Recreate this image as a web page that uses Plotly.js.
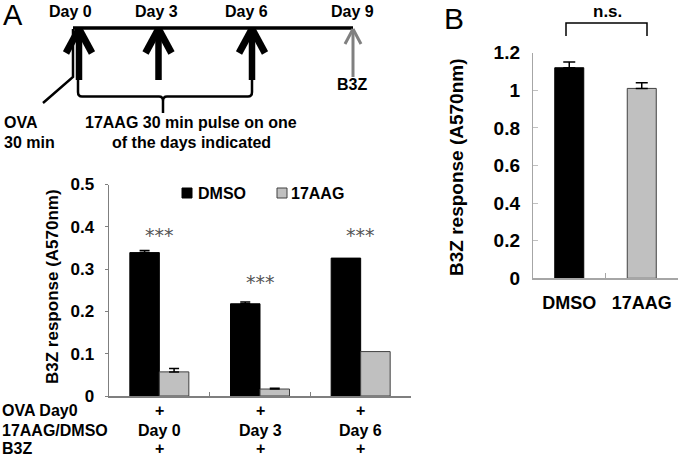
<!DOCTYPE html>
<html>
<head>
<meta charset="utf-8">
<script src="https://cdn.plot.ly/plotly-3.0.1.min.js"></script>
<style>html,body{margin:0;padding:0;background:#fff;}#chart{width:680px;height:456px;}</style>
</head>
<body>
<div id="chart"></div>
<script>
// ---------- Data (panel A) ----------
const categories = ['Day 0', 'Day 3', 'Day 6'];
const dmsoValues = [0.339, 0.218, 0.326];
const dmsoErrors = [0.005, 0.004, NaN];
const aagValues = [0.057, 0.0165, 0.105];
const aagErrors = [0.008, 0.002, NaN];
const sigLabels = ['***', '***', '***'];
const sigHeights = [0.38, 0.27, 0.38];
const rowNames = ['OVA Day0', '17AAG/DMSO', 'B3Z'];
const rowOVA = ['+', '+', '+'];
const rowTreatment = ['Day 0', 'Day 3', 'Day 6'];
const rowB3Z = ['+', '+', '+'];
const seriesNames = ['DMSO', '17AAG'];
const timelineDays = ['Day 0', 'Day 3', 'Day 6', 'Day 9'];

// ---------- Data (panel B) ----------
const bCategories = ['DMSO', '17AAG'];
const bValues = [1.12, 1.01];
const bErrors = [0.03, 0.03];
const bSig = 'n.s.';

// ---------- helpers (pixel -> paper) ----------
const W = 680, H = 456;
const px = x => x / W;
const py = y => 1 - y / H;
const FONT = 'Liberation Sans, Arial, sans-serif';
const BLACK = '#000000', GRAY = '#c0c0c0', EDGE = '#404040';

function seg(x0, y0, x1, y1, color, width) {
  return {type: 'line', xref: 'paper', yref: 'paper', x0: px(x0), y0: py(y0), x1: px(x1), y1: py(y1),
          line: {color: color, width: width}, layer: 'above'};
}
function pathShape(d, color, width) {
  return {type: 'path', xref: 'paper', yref: 'paper', path: d, line: {color: color, width: width}, layer: 'above'};
}
function P(x, y) { return px(x) + ',' + py(y); }
function txt(text, x, y, size, opts) {
  opts = opts || {};
  return Object.assign({
    text: text, xref: 'paper', yref: 'paper', x: px(x), y: py(y), showarrow: false,
    xanchor: 'center', yanchor: 'middle',
    font: {family: FONT, size: size, color: '#000', weight: opts.weight || 'bold'}
  }, opts.extra || {});
}
// minus side of the error bars is hidden (only the upper half is drawn)
const noMinus = arr => arr.map(v => (isNaN(v) ? NaN : 0));

// ---------- traces ----------
const traces = [
  {type: 'bar', name: seriesNames[0], x: categories, y: dmsoValues, xaxis: 'x', yaxis: 'y',
   marker: {color: BLACK, line: {color: BLACK, width: 1}},
   error_y: {type: 'data', symmetric: false, array: dmsoErrors, arrayminus: noMinus(dmsoErrors), color: '#000', thickness: 1.5, width: 5},
   showlegend: false, hoverinfo: 'skip'},
  {type: 'bar', name: seriesNames[1], x: categories, y: aagValues, xaxis: 'x', yaxis: 'y',
   marker: {color: GRAY, line: {color: EDGE, width: 1}},
   error_y: {type: 'data', symmetric: false, array: aagErrors, arrayminus: noMinus(aagErrors), color: '#000', thickness: 1.5, width: 5},
   showlegend: false, hoverinfo: 'skip'},
  {type: 'bar', x: bCategories, y: bValues, xaxis: 'x2', yaxis: 'y2', width: 0.4,
   marker: {color: [BLACK, GRAY], line: {color: [BLACK, EDGE], width: 1}},
   error_y: {type: 'data', symmetric: false, array: bErrors, arrayminus: noMinus(bErrors), color: '#000', thickness: 1.5, width: 6},
   showlegend: false, hoverinfo: 'skip'}
];

// ---------- shapes ----------
const shapes = [];
// timeline
shapes.push(seg(73, 28, 353, 28, BLACK, 3.5));
// OVA thin line
shapes.push(pathShape('M' + P(73, 29) + 'L' + P(73, 77) + 'L' + P(43, 103), BLACK, 2.5));
// black arrows
[79, 158.5, 252].forEach(x => {
  shapes.push(seg(x, 30, x, 80, BLACK, 6.5));
  shapes.push(seg(x, 29, x - 13, 53, BLACK, 7));
  shapes.push(seg(x, 29, x + 13, 53, BLACK, 7));
});
// gray arrow (Day 9)
shapes.push(seg(353, 30, 353, 77, '#808080', 3));
shapes.push(seg(353, 29, 345, 44, '#808080', 3));
shapes.push(seg(353, 29, 361, 44, '#808080', 3));
// brace
shapes.push(pathShape('M' + P(78, 80) + 'L' + P(78, 92) + 'Q' + P(78, 96.5) + ' ' + P(82, 96.5) +
  'L' + P(159, 96.5) + 'Q' + P(163, 96.5) + ' ' + P(163, 101) + 'L' + P(163, 113) +
  'M' + P(163, 101) + 'Q' + P(163, 96.5) + ' ' + P(167, 96.5) + 'L' + P(248, 96.5) +
  'Q' + P(252, 96.5) + ' ' + P(252, 92) + 'L' + P(252, 80), BLACK, 2.5));
// legend squares
shapes.push({type: 'rect', xref: 'paper', yref: 'paper', x0: px(182), x1: px(192), y0: py(198), y1: py(188),
             fillcolor: BLACK, line: {color: BLACK, width: 1}});
shapes.push({type: 'rect', xref: 'paper', yref: 'paper', x0: px(277), x1: px(287), y0: py(198), y1: py(188),
             fillcolor: GRAY, line: {color: EDGE, width: 1}});
// n.s. bracket
shapes.push(pathShape('M' + P(566, 36) + 'L' + P(566, 23) + 'L' + P(647, 23) + 'L' + P(647, 36), BLACK, 1.5));

// ---------- annotations ----------
const annotations = [];
annotations.push(txt('A', 13, 15, 29, {weight: 'normal'}));
annotations.push(txt('B', 454, 18, 30, {weight: 'normal'}));
const dayX = [70, 156, 246, 352];
timelineDays.forEach((d, i) => annotations.push(txt(d, dayX[i], 12, 16)));
annotations.push(txt('B3Z', 352, 84, 16));
annotations.push(txt('OVA', 2, 122, 16, {extra: {xanchor: 'left'}}));
annotations.push(txt('30 min', 2, 142, 16, {extra: {xanchor: 'left'}}));
annotations.push(txt('17AAG 30 min pulse on one', 191, 122, 16));
annotations.push(txt('of the days indicated', 191, 142, 16));
// legend text
annotations.push(txt(seriesNames[0], 196, 193, 16, {extra: {xanchor: 'left'}}));
annotations.push(txt(seriesNames[1], 289, 193, 16, {extra: {xanchor: 'left'}}));
// y titles
annotations.push(txt('B3Z response (A570nm)', 52, 287, 17, {extra: {textangle: -90}}));
annotations.push(txt('B3Z response (A570nm)', 456, 167, 19, {extra: {textangle: -90}}));
// significance stars
categories.forEach((c, i) => annotations.push({
  text: sigLabels[i], xref: 'x', yref: 'y', x: c, y: sigHeights[i], showarrow: false,
  xanchor: 'center', yanchor: 'middle', font: {family: 'DejaVu Sans, sans-serif', size: 19, color: '#555'}
}));
// n.s.
annotations.push(txt(bSig, 607, 11, 17));
// rows below panel A
const rowY = [410, 430, 448];
rowNames.forEach((r, i) => annotations.push(txt(r, 0, rowY[i], 16, {extra: {xanchor: 'left'}})));
[rowOVA, rowTreatment, rowB3Z].forEach((row, j) => {
  row.forEach((v, i) => annotations.push({
    text: v, xref: 'x', yref: 'paper', x: categories[i], y: py(rowY[j]), showarrow: false,
    xanchor: 'center', yanchor: 'middle', font: {family: FONT, size: 16, color: '#000', weight: 'bold'}
  }));
});

// ---------- layout ----------
const layout = {
  width: W, height: H, autosize: false,
  margin: {l: 0, r: 0, t: 0, b: 0, pad: 0},
  paper_bgcolor: '#fff', plot_bgcolor: 'rgba(0,0,0,0)',
  font: {family: FONT, color: '#000'},
  barmode: 'group', bargap: 0.414, bargroupgap: 0,
  showlegend: false,
  xaxis: {domain: [px(109), px(411)], type: 'category', range: [-0.5, 2.5], showline: true,
          linecolor: '#7f7f7f', linewidth: 1.5, ticks: 'inside', tickson: 'boundaries', ticklen: 4,
          tickcolor: '#7f7f7f', tickwidth: 1, showticklabels: false, showgrid: false, zeroline: false, fixedrange: true},
  yaxis: {domain: [py(396), py(184.5)], range: [0, 0.5], dtick: 0.1, tick0: 0, showline: true,
          linecolor: '#7f7f7f', linewidth: 1.5, ticks: 'outside', ticklen: 3, tickcolor: '#7f7f7f',
          tickfont: {family: FONT, size: 17, weight: 'bold', color: '#000'}, ticklabelstandoff: 7,
          showgrid: false, zeroline: false, fixedrange: true},
  xaxis2: {domain: [px(533), px(678)], type: 'category', range: [-0.5, 1.5], showline: true,
           linecolor: '#a6a6a6', linewidth: 1.2, ticks: 'inside', tickson: 'boundaries', ticklen: 5,
           tickcolor: '#a6a6a6', tickfont: {family: FONT, size: 18, weight: 'bold', color: '#000'},
           ticklabelstandoff: 8, showgrid: false, zeroline: false, fixedrange: true, anchor: 'y2'},
  yaxis2: {domain: [py(278.3), py(52.7)], range: [0, 1.2], dtick: 0.2, tick0: 0, showline: true,
           linecolor: '#a6a6a6', linewidth: 1.2, ticks: 'inside', ticklen: 5, tickcolor: '#c0c0c0',
           tickfont: {family: FONT, size: 19, weight: 'bold', color: '#000'}, ticklabelstandoff: 8,
           showgrid: false, zeroline: false, fixedrange: true, anchor: 'x2'},
  shapes: shapes,
  annotations: annotations
};

Plotly.newPlot('chart', traces, layout, {displayModeBar: false, staticPlot: true});
</script>
</body>
</html>
